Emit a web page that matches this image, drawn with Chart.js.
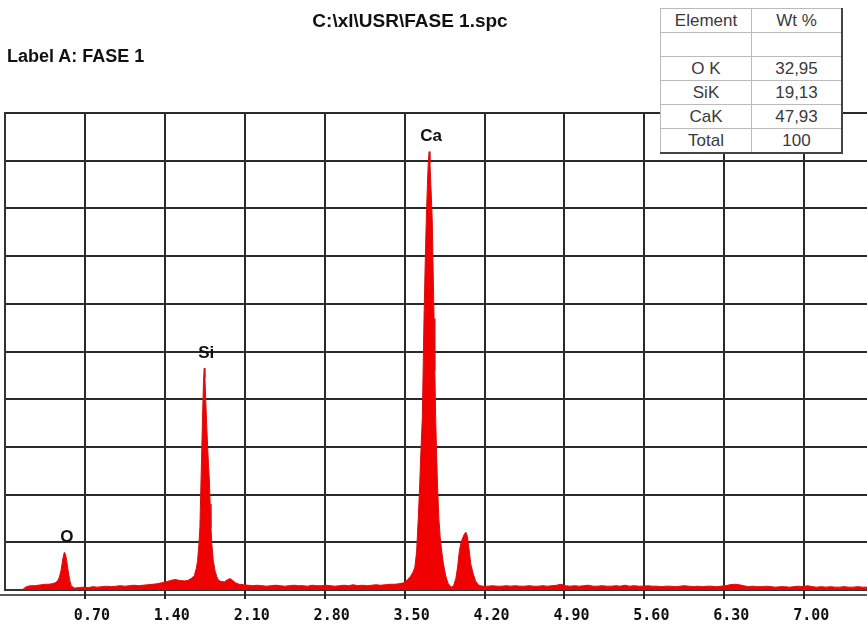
<!DOCTYPE html>
<html>
<head>
<meta charset="utf-8">
<script src="https://cdn.jsdelivr.net/npm/chart.js@4.4.1/dist/chart.umd.min.js"></script>
<style>
  body { margin: 0; background: #fff; }
  #wrap { position: relative; width: 867px; height: 628px; overflow: hidden; }
  #title { position: absolute; top: 10px; left: 410px; transform: translateX(-50%);
    font: bold 19px "Liberation Sans", Arial, sans-serif; color: #111; white-space: nowrap; }
  #label { position: absolute; top: 46px; left: 7px;
    font: bold 18px "Liberation Sans", Arial, sans-serif; color: #111; white-space: nowrap; }
  #results { position: absolute; top: 8px; left: 660px; border-collapse: collapse; background: #fff;
    font: 17px "Liberation Sans", Arial, sans-serif; color: #3a3a3a;
    border-top: 1px solid #aaa; border-left: 1px solid #aaa;
    border-right: 2px solid #444; border-bottom: 2px solid #444; }
  #results td { height: 23px; padding: 0; text-align: center; border: 1px solid #bbb; line-height: 23px; }
  #results td:first-child { width: 90px; }
  #results td:last-child { width: 89px; }
</style>
</head>
<body>
<div id="wrap">
  <canvas id="spectrum" width="867" height="640"></canvas>
  <div id="title">C:\xl\USR\FASE 1.spc</div>
  <div id="label">Label A: FASE 1</div>
  <table id="results"></table>
</div>
<script>
// spectrum, energy in keV and counts (100 = one grid division)
const energyKeV = [
  0.14, 0.16, 0.18, 0.20, 0.23, 0.26, 0.29, 0.32, 0.35, 0.38, 0.41, 0.44, 0.46, 0.475, 0.49, 0.50,
  0.51, 0.52, 0.53, 0.54, 0.55, 0.56, 0.57, 0.58, 0.595, 0.61,
  0.65, 0.69, 0.73, 0.77, 0.81, 0.85, 0.89, 0.93, 0.97, 1.01, 1.05, 1.09, 1.13, 1.17, 1.21, 1.25,
  1.29, 1.33, 1.37, 1.41, 1.45, 1.49, 1.53, 1.57,
  1.60, 1.63, 1.658, 1.675, 1.687, 1.698, 1.707, 1.716, 1.724, 1.732, 1.739, 1.745, 1.751, 1.758,
  1.766, 1.775, 1.782, 1.789, 1.797, 1.804, 1.812, 1.824, 1.840, 1.855, 1.868, 1.89, 1.92, 1.945,
  1.97, 1.995, 2.02, 2.05, 2.09,
  2.13, 2.17, 2.21, 2.25, 2.29, 2.33, 2.37, 2.41, 2.45, 2.49, 2.53, 2.57, 2.61, 2.65, 2.69, 2.73,
  2.77, 2.81, 2.85, 2.89, 2.93, 2.97, 3.01, 3.05, 3.09, 3.13, 3.17, 3.21, 3.25, 3.29, 3.33, 3.37, 3.41,
  3.45, 3.49, 3.52, 3.55, 3.575, 3.59, 3.605, 3.62, 3.632, 3.643, 3.655, 3.663, 3.67, 3.68, 3.69,
  3.70, 3.708, 3.715, 3.722, 3.73, 3.742, 3.75, 3.758, 3.765, 3.772, 3.78, 3.788, 3.80, 3.812,
  3.824, 3.84, 3.86, 3.88, 3.90, 3.915, 3.93, 3.95, 3.965, 3.98, 3.995, 4.01, 4.025, 4.037, 4.05,
  4.065, 4.08, 4.10, 4.12, 4.14, 4.16, 4.19,
  4.23, 4.27, 4.31, 4.35, 4.39, 4.43, 4.47, 4.51, 4.55, 4.59,
  4.63, 4.67, 4.71, 4.75, 4.79, 4.83, 4.87, 4.91, 4.95, 4.99,
  5.03, 5.07, 5.11, 5.15, 5.19, 5.23, 5.27, 5.31, 5.35, 5.39,
  5.43, 5.47, 5.51, 5.55, 5.59, 5.63, 5.67, 5.71, 5.75, 5.79,
  5.83, 5.87, 5.91, 5.95, 5.99, 6.03, 6.07, 6.11, 6.15, 6.19,
  6.23, 6.27, 6.31, 6.35, 6.39, 6.43, 6.47, 6.51, 6.55, 6.59,
  6.63, 6.67, 6.71, 6.75, 6.79, 6.83, 6.87, 6.91, 6.95, 6.99,
  7.03, 7.07, 7.11, 7.15, 7.19, 7.23, 7.27, 7.31, 7.35, 7.39,
  7.43, 7.47, 7.51, 7.55
];
const counts = [
  0, 2, 6, 8, 9, 9, 10, 11, 12, 12, 13, 15, 19, 26, 40, 55,
  70, 79, 75, 62, 45, 30, 18, 9, 6, 4,
  5, 6, 5, 7, 6, 7, 8, 7, 8, 9, 8, 9, 10, 9, 10, 11,
  12, 13, 15, 17, 20, 22, 20, 19,
  20, 24, 30, 45, 62, 95, 131, 220, 300, 380, 440, 465, 445, 400,
  350, 300, 265, 235, 180, 131, 95, 62, 40, 28, 21, 18, 17, 21,
  24, 20, 15, 12, 11,
  10, 9, 10, 9, 8, 9, 10, 9, 8, 9, 10, 9, 9, 8, 10, 9,
  9, 10, 9, 8, 9, 10, 9, 11, 9, 10, 9, 10, 11, 10, 11, 12, 12,
  13, 15, 20, 28, 38, 48, 80, 152, 220, 292, 360, 470, 569, 680, 777,
  850, 900, 919, 895, 850, 777, 670, 569, 460, 360, 290, 221, 150, 110,
  83, 55, 30, 14, 8, 6, 10, 25, 50, 83, 100, 110, 118, 121, 112,
  85, 54, 35, 20, 12, 9, 8,
  8, 9, 8, 8, 9, 8, 9, 8, 8, 9,
  8, 8, 9, 8, 9, 10, 12, 9, 8, 9,
  8, 9, 10, 8, 8, 9, 8, 8, 9, 8,
  10, 8, 9, 8, 8, 9, 8, 8, 7, 8,
  8, 7, 8, 9, 8, 7, 8, 7, 8, 8,
  7, 8, 9, 11, 12, 11, 9, 7, 8, 7,
  7, 8, 7, 6, 7, 7, 6, 7, 8, 7,
  9, 7, 6, 7, 6, 7, 6, 6, 7, 6,
  6, 7, 6, 6
];

const xTicks = [0.70, 1.40, 2.10, 2.80, 3.50, 4.20, 4.90, 5.60, 6.30, 7.00];

const peakSymbols = ['O', 'Si', 'Ca'];
const peakEnergies = [0.525, 1.745, 3.715];

const elements = ['O K', 'SiK', 'CaK', 'Total'];
const wtPercent = ['32,95', '19,13', '47,93', '100'];

// results table
const table = document.getElementById('results');
let rows = '<tr><td>Element</td><td>Wt %</td></tr><tr><td></td><td></td></tr>';
elements.forEach((el, i) => { rows += '<tr><td>' + el + '</td><td>' + wtPercent[i] + '</td></tr>'; });
table.innerHTML = rows;

const points = energyKeV.map((e, i) => ({ x: e, y: counts[i] }));

const extras = {
  id: 'extras',
  afterDatasetsDraw(chart) {
    const { ctx, chartArea, scales } = chart;
    const x = scales.x, y = scales.y;
    ctx.save();
    // second axis line under the plot box
    ctx.strokeStyle = '#222';
    ctx.lineWidth = 1.5;
    ctx.beginPath();
    ctx.moveTo(0, chartArea.bottom + 5);
    ctx.lineTo(chart.width, chartArea.bottom + 5);
    ctx.stroke();
    // peak labels
    ctx.fillStyle = '#111';
    ctx.font = 'bold 17px "Liberation Sans", Arial, sans-serif';
    ctx.textAlign = 'center';
    ctx.textBaseline = 'middle';
    peakSymbols.forEach((sym, i) => {
      let top = 0;
      energyKeV.forEach((e, j) => {
        if (Math.abs(e - peakEnergies[i]) < 0.03 && counts[j] > top) top = counts[j];
      });
      ctx.fillText(sym, x.getPixelForValue(peakEnergies[i]) + 2, y.getPixelForValue(top) - 15);
    });
    ctx.restore();
  }
};

new Chart(document.getElementById('spectrum'), {
  type: 'line',
  data: {
    datasets: [{
      data: points,
      fill: 'origin',
      backgroundColor: 'rgb(240,0,0)',
      borderColor: 'rgb(215,15,15)',
      borderWidth: 1,
      pointRadius: 0,
      tension: 0
    }]
  },
  options: {
    responsive: false,
    animation: false,
    layout: { padding: { top: 113, left: 5, right: 0, bottom: 7 } },
    plugins: { legend: { display: false }, tooltip: { enabled: false } },
    scales: {
      x: {
        type: 'linear',
        min: 0,
        max: 7.55,
        afterBuildTicks: (scale) => { scale.ticks = xTicks.map(v => ({ value: v })); },
        grid: { color: '#2a2a2a', lineWidth: 2, tickLength: 9 },
        border: { color: '#333', width: 2 },
        ticks: {
          labelOffset: 7,
          padding: 8,
          maxRotation: 0,
          autoSkip: false,
          color: '#111',
          font: { family: '"DejaVu Sans Mono", monospace', weight: 'bold', size: 15 },
          callback: (v) => Number(v).toFixed(2)
        }
      },
      y: {
        min: 0,
        max: 1000,
        ticks: { display: false, stepSize: 100 },
        grid: { color: '#2a2a2a', lineWidth: 2, drawTicks: false },
        border: { color: '#333', width: 2 }
      }
    }
  },
  plugins: [extras]
});
</script>
</body>
</html>
